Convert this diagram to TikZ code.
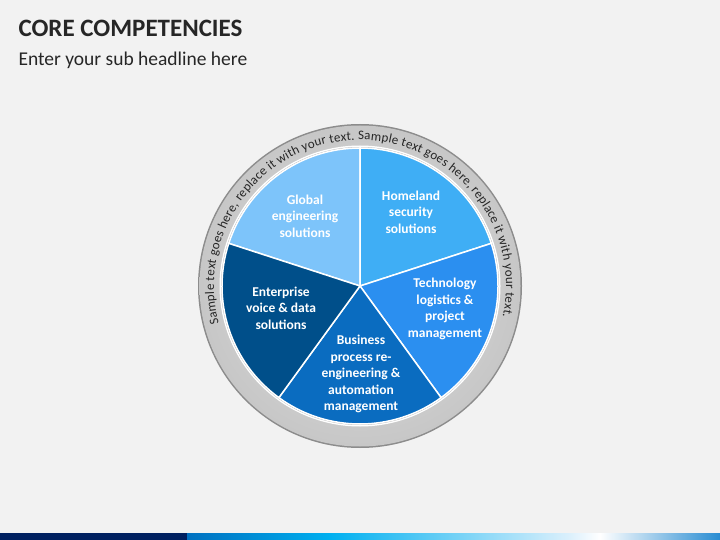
\documentclass[tikz,border=0pt]{standalone}
\usepackage{fontspec}
\setmainfont{Carlito}
\usetikzlibrary{decorations.text}
\definecolor{bg}{HTML}{F2F2F2}
\definecolor{cA}{HTML}{7DC4FA}
\definecolor{cB}{HTML}{3FAEF5}
\definecolor{cC}{HTML}{2B8FF0}
\definecolor{cD}{HTML}{0A6CC0}
\definecolor{cE}{HTML}{004F8A}
\definecolor{navy}{HTML}{002060}
\begin{document}
\begin{tikzpicture}[x=1pt,y=-1pt,
  lbl/.style={text=white,font=\bfseries\fontsize{13.5}{16.5}\selectfont,align=center},
  wedge/.style={draw=white,line width=1.5pt}]
\fill[bg] (0,0) rectangle (720,540);
\useasboundingbox (0,0) rectangle (720,540);
\node[anchor=west,font=\bfseries\fontsize{25}{28}\selectfont,text=black!85] (title) at (15,28) {CORE COMPETENCIES};
\node[anchor=west,font=\fontsize{19.5}{22}\selectfont,text=black!85] (sub) at (15,60) {Enter your sub headline here};
% bottom bar
\fill[navy] (0,533) rectangle (187,540);
\shade[left color={rgb,255:red,0;green,112;blue,192},right color={rgb,255:red,0;green,176;blue,240}] (187,533) rectangle (330,540);
\shade[left color={rgb,255:red,0;green,176;blue,240},right color={rgb,255:red,220;green,240;blue,252}] (330,533) rectangle (570,540);
\shade[left color={rgb,255:red,220;green,240;blue,252},right color=white] (570,533) rectangle (600,540);
\shade[left color=white,right color={rgb,255:red,40;green,140;blue,210}] (600,533) rectangle (720,540);
% ring
\coordinate (c) at (360,286);
\fill[black!45] (c) circle (162);
\shade[inner color=black!12,outer color=black!22] (c) circle (160.5);
\fill[white] (c) circle (140.5);
\fill[black!30] (c) circle (139);
% wedges (y axis flipped: use negative angles)
\filldraw[wedge,fill=cA] (c) -- ++(-90:138) arc[start angle=-90,end angle=-162,radius=138] -- cycle;
\filldraw[wedge,fill=cB] (c) -- ++(-18:138) arc[start angle=-18,end angle=-90,radius=138] -- cycle;
\filldraw[wedge,fill=cC] (c) -- ++(54:138) arc[start angle=54,end angle=-18,radius=138] -- cycle;
\filldraw[wedge,fill=cD] (c) -- ++(126:138) arc[start angle=126,end angle=54,radius=138] -- cycle;
\filldraw[wedge,fill=cE] (c) -- ++(198:138) arc[start angle=198,end angle=126,radius=138] -- cycle;
\node[lbl] (ge) at (305,216) {Global\\engineering\\solutions};
\node[lbl] (hs) at (411,212) {Homeland\\security\\solutions};
\node[lbl] (tl) at (445,309) {Technology\\logistics \&\\project\\management};
\node[lbl] (bp) at (361,374) {Business\\process re-\\engineering \&\\automation\\management};
\node[lbl] (ev) at (281,308) {Enterprise\\voice \& data\\solutions};
% ring text
\path[decorate,decoration={text along path,text align=fit to path,
  text={|\fontsize{13}{15}\selectfont\color{black!85}|Sample text goes here, replace it with your text. Sample text goes here, replace it with your text.}}]
  (c) ++(165:146) arc[start angle=165,end angle=372,radius=146];
\end{tikzpicture}
\end{document}
